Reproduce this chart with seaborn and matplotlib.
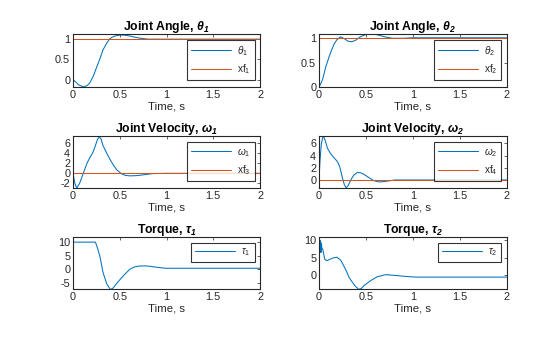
import matplotlib
matplotlib.use("Agg")
import matplotlib.pyplot as plt
import seaborn as sns

# ---------------- data ----------------
t_th1 = [0, 0.03, 0.06, 0.11, 0.15, 0.18, 0.22, 0.25, 0.29, 0.32, 0.36, 0.39, 0.42, 0.45,
         0.5, 0.55, 0.6, 0.7, 0.8, 1.0, 1.5, 2.0]
theta1 = [0, -0.06, -0.13, -0.18, -0.15, -0.08, 0.1, 0.29, 0.53, 0.73, 0.9, 1.0, 1.05, 1.08,
          1.1, 1.1, 1.08, 1.03, 1.0, 1.0, 1.0, 1.0]

t_th2 = [0, 0.02, 0.04, 0.07, 0.11, 0.14, 0.16, 0.19, 0.23, 0.27, 0.31, 0.35, 0.39, 0.44,
         0.49, 0.54, 0.6, 0.66, 0.72, 0.78, 0.9, 1.0, 1.5, 2.0]
theta2 = [0, 0.08, 0.17, 0.4, 0.63, 0.78, 0.87, 0.96, 1.02, 0.98, 0.93, 0.92, 0.95, 1.02,
          1.06, 1.08, 1.07, 1.04, 1.01, 0.99, 0.99, 1.0, 1.0, 1.0]

t_w1 = [0, 0.02, 0.04, 0.07, 0.11, 0.15, 0.18, 0.21, 0.235, 0.26, 0.28, 0.3, 0.32, 0.36,
        0.4, 0.44, 0.47, 0.52, 0.56, 0.61, 0.68, 0.75, 0.85, 1.0, 1.5, 2.0]
omega1 = [0, -2.0, -2.9, -2.0, 0.0, 2.0, 3.1, 4.0, 5.2, 6.6, 7.2, 6.8, 5.5, 4.0,
          2.6, 1.4, 0.65, -0.1, -0.4, -0.5, -0.45, -0.3, -0.05, 0.0, 0.0, 0.0]

t_w2 = [0, 0.01, 0.025, 0.046, 0.065, 0.09, 0.12, 0.14, 0.18, 0.2, 0.22, 0.25, 0.27, 0.29,
        0.31, 0.34, 0.37, 0.41, 0.45, 0.48, 0.53, 0.58, 0.63, 0.67, 0.74, 0.81, 1.0, 1.5, 2.0]
omega2 = [0, 3.0, 6.0, 7.3, 6.5, 5.2, 4.4, 4.0, 3.3, 2.9, 2.2, 0.3, -0.8, -1.3,
          -0.9, 0.05, 0.8, 1.25, 1.15, 0.9, 0.4, -0.1, -0.3, -0.3, -0.15, 0.0, 0.0, 0.0, 0.0]

t_tau1 = [0, 0.001, 0.24, 0.26, 0.29, 0.32, 0.36, 0.40, 0.43, 0.47, 0.54, 0.61, 0.66, 0.70,
          0.77, 0.83, 0.89, 0.99, 1.2, 1.5, 2.0]
tau1 = [0, 10, 10, 8.0, 4.4, -1.1, -5.4, -7.6, -7.0, -5.2, -2.4, 0.0, 0.8, 1.1,
        1.2, 1.0, 0.7, 0.3, 0.3, 0.3, 0.3]

t_tau2 = [0, 0.002, 0.006, 0.01, 0.014, 0.018, 0.022, 0.026, 0.03, 0.04, 0.06, 0.08, 0.1,
          0.15, 0.19, 0.23, 0.26, 0.29, 0.32, 0.35, 0.38, 0.42, 0.45, 0.48, 0.55, 0.62,
          0.71, 0.8, 0.92, 1.03, 1.5, 2.0]
tau2 = [0, 10, 6.5, 10, 6.5, 9.5, 6.5, 9.0, 7.8, 7.4, 4.6, 4.1, 4.3,
        4.9, 5.1, 4.3, 2.8, 1.2, -0.7, -1.9, -3.0, -4.1, -3.9, -3.0, -1.6, -0.5,
        0.1, -0.1, -0.4, -0.6, -0.6, -0.6]

xf_t = [0, 2]
xf1 = [1, 1]
xf2 = [1, 1]
xf3 = [0, 0]
xf4 = [0, 0]

xticks = [0, 0.5, 1, 1.5, 2]
xticklabels = ["0", "0.5", "1", "1.5", "2"]

# ---------------- style ----------------
sns.set_style("white")
plt.rcParams["font.family"] = ["Liberation Sans", "DejaVu Sans"]
plt.rcParams["mathtext.fontset"] = "custom"
plt.rcParams["mathtext.rm"] = "Liberation Sans"
plt.rcParams["mathtext.it"] = "Liberation Sans:italic"
plt.rcParams["mathtext.bf"] = "Liberation Sans:bold:italic"

BLUE = "#0072BD"
ORANGE = "#D95319"
DARK = "#262626"

fig = plt.figure(figsize=(5.6, 3.37), dpi=100)

W = 560.0
H = 337.0
cols = [(73, 260), (319, 507)]
rows = [(34.3, 87.3), (136.3, 188.3), (237.0, 289.3)]


def make_ax(r, c):
    x0, x1 = cols[c]
    y0, y1 = rows[r]
    return fig.add_axes([x0 / W, 1 - y1 / H, (x1 - x0) / W, (y1 - y0) / H])


def style(ax, title, ylim, yticks, yticklabels):
    ax.set_xlim(0, 2)
    ax.set_ylim(*ylim)
    ax.set_xticks(xticks)
    ax.set_xticklabels(xticklabels)
    ax.set_yticks(yticks)
    ax.set_yticklabels(yticklabels)
    ax.tick_params(direction="in", length=2.5, width=0.5, top=True, right=True,
                   labelsize=7.8, colors=DARK, pad=2)
    for s in ax.spines.values():
        s.set_color(DARK)
        s.set_linewidth(0.8)
    ax.set_xlabel("Time, s", fontsize=8.2, color=DARK, labelpad=1)
    ax.set_ylabel("")
    ax.set_title(title, fontsize=8.8, fontweight="bold", color="black", pad=3)


def legend(ax):
    leg = ax.legend(loc="upper right", fontsize=7.2, frameon=True, fancybox=False,
                    edgecolor="black", handlelength=4.0, borderaxespad=0.55,
                    labelspacing=0.45, borderpad=0.4, handletextpad=0.6)
    leg.get_frame().set_linewidth(0.8)
    for txt in leg.get_texts():
        txt.set_color(DARK)


LW = 0.75

# Row 1
ax = make_ax(0, 0)
sns.lineplot(x=t_th1, y=theta1, ax=ax, color=BLUE, linewidth=LW, label=r"$\theta_1$")
sns.lineplot(x=xf_t, y=xf1, ax=ax, color=ORANGE, linewidth=LW, label=r"xf$_1$")
style(ax, r"Joint Angle, $\mathbf{\theta_1}$", (-0.19, 1.12), [0, 0.5, 1], ["0", "0.5", "1"])
legend(ax)

ax = make_ax(0, 1)
sns.lineplot(x=t_th2, y=theta2, ax=ax, color=BLUE, linewidth=LW, label=r"$\theta_2$")
sns.lineplot(x=xf_t, y=xf2, ax=ax, color=ORANGE, linewidth=LW, label=r"xf$_2$")
style(ax, r"Joint Angle, $\mathbf{\theta_2}$", (0, 1.07), [0, 0.5, 1], ["0", "0.5", "1"])
legend(ax)

# Row 2
ax = make_ax(1, 0)
sns.lineplot(x=t_w1, y=omega1, ax=ax, color=BLUE, linewidth=LW, label=r"$\omega_1$")
sns.lineplot(x=xf_t, y=xf3, ax=ax, color=ORANGE, linewidth=LW, label=r"xf$_3$")
style(ax, r"Joint Velocity, $\mathbf{\omega_1}$", (-2.95, 7.3), [-2, 0, 2, 4, 6],
      ["-2", "0", "2", "4", "6"])
legend(ax)

ax = make_ax(1, 1)
sns.lineplot(x=t_w2, y=omega2, ax=ax, color=BLUE, linewidth=LW, label=r"$\omega_2$")
sns.lineplot(x=xf_t, y=xf4, ax=ax, color=ORANGE, linewidth=LW, label=r"xf$_4$")
style(ax, r"Joint Velocity, $\mathbf{\omega_2}$", (-1.36, 7.15), [0, 2, 4, 6],
      ["0", "2", "4", "6"])
legend(ax)

# Row 3
ax = make_ax(2, 0)
sns.lineplot(x=t_tau1, y=tau1, ax=ax, color=BLUE, linewidth=LW, label=r"$\tau_1$")
style(ax, r"Torque, $\mathbf{\tau_1}$", (-7.5, 11.9), [-5, 0, 5, 10], ["-5", "0", "5", "10"])
legend(ax)

ax = make_ax(2, 1)
sns.lineplot(x=t_tau2, y=tau2, ax=ax, color=BLUE, linewidth=LW, label=r"$\tau_2$")
style(ax, r"Torque, $\mathbf{\tau_2}$", (-4.1, 10.9), [0, 5, 10], ["0", "5", "10"])
legend(ax)

fig.savefig("out.png", dpi=100, facecolor="white")
